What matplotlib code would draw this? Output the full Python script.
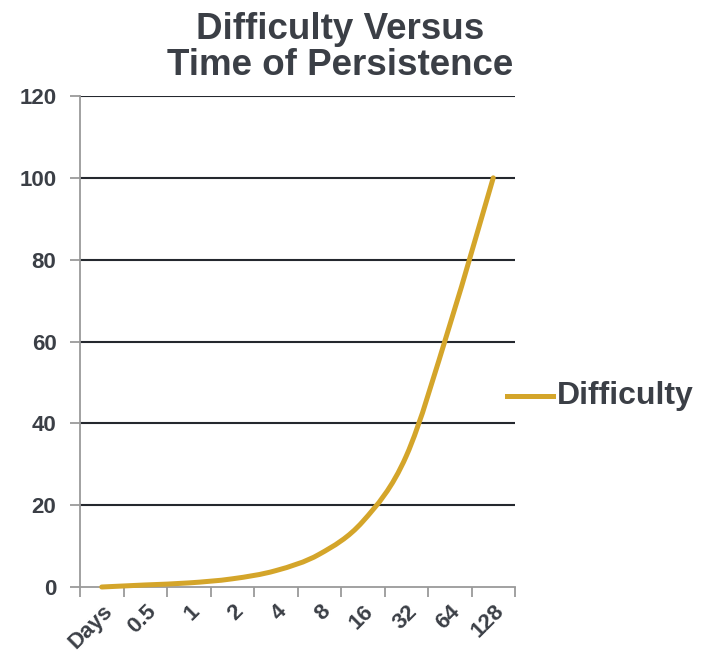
import matplotlib
matplotlib.use("Agg")
import matplotlib.pyplot as plt
import numpy as np
from matplotlib.path import Path
from matplotlib.patches import PathPatch
from matplotlib.lines import Line2D

plt.rcParams['font.family'] = ['Liberation Sans', 'DejaVu Sans']

categories = ["Days", "0.5", "1", "2", "4", "8", "16", "32", "64", "128"]
difficulty = [0, 0.5, 1, 2, 4, 8, 16, 32, 64, 100]
yticks = [0, 20, 40, 60, 80, 100, 120]

text_col = "#3b3f46"
line_col = "#d4a52a"
grid_col = "#24282e"
axis_col = "#9a9a9a"

fig = plt.figure(figsize=(7.08, 6.54), dpi=100)
ax = fig.add_axes([80 / 708, 1 - 587 / 654, 435 / 708, 491 / 654])

# smoothed line through the points (cubic Bezier, Catmull-Rom style control points)
x = np.arange(len(categories), dtype=float)
y = np.array(difficulty, dtype=float)
pts = np.column_stack([x, y])
verts = [pts[0]]
codes = [Path.MOVETO]
n = len(pts)
for i in range(n - 1):
    p0 = pts[i - 1] if i > 0 else pts[i]
    p1 = pts[i]
    p2 = pts[i + 1]
    p3 = pts[i + 2] if i + 2 < n else pts[i + 1]
    c1 = p1 + (p2 - p0) / 6
    c2 = p2 - (p3 - p1) / 6
    verts += [c1, c2, p2]
    codes += [Path.CURVE4] * 3
curve = PathPatch(Path(verts, codes), facecolor="none", edgecolor=line_col,
                  lw=3.6, capstyle="round", zorder=3, clip_on=False)
ax.add_patch(curve)

ax.set_xlim(-0.5, len(categories) - 0.5)
ax.set_ylim(0, 120)

for v in yticks[1:]:
    ax.axhline(v, color=grid_col, lw=1.5, zorder=1)

for s in ["top", "right"]:
    ax.spines[s].set_visible(False)
ax.spines["left"].set_color(axis_col)
ax.spines["bottom"].set_color(axis_col)
ax.spines["left"].set_linewidth(1.3)
ax.spines["bottom"].set_linewidth(1.3)

ax.set_yticks(yticks)
ax.set_yticklabels([str(v) for v in yticks], fontsize=16, fontweight="bold", color=text_col)
ax.tick_params(axis="y", length=7, width=1.3, color=axis_col, pad=10)

ax.set_xticks(x)
ax.set_xticklabels(categories, fontsize=16, fontweight="bold", color=text_col,
                   rotation=45, ha="right", va="top", rotation_mode="anchor")
ax.tick_params(axis="x", which="major", length=0, pad=10)
ax.set_xticks(np.arange(-0.5, len(categories)), minor=True)
ax.tick_params(axis="x", which="minor", length=7, width=1.3, color=axis_col)

fig.text(340 / 708, 1 - 75 / 654, "Difficulty Versus\nTime of Persistence",
         ha="center", va="baseline", fontsize=26.5, fontweight="bold",
         color=text_col, linespacing=1.05)

# legend entry drawn by hand on the right
fig.add_artist(Line2D([507 / 708, 553 / 708], [1 - 396 / 654] * 2,
                      color=line_col, lw=3.6, transform=fig.transFigure))
fig.text(557 / 708, 1 - 396 / 654, "Difficulty", ha="left", va="center",
         fontsize=23, fontweight="bold", color=text_col)

fig.savefig("out.png", dpi=100)
